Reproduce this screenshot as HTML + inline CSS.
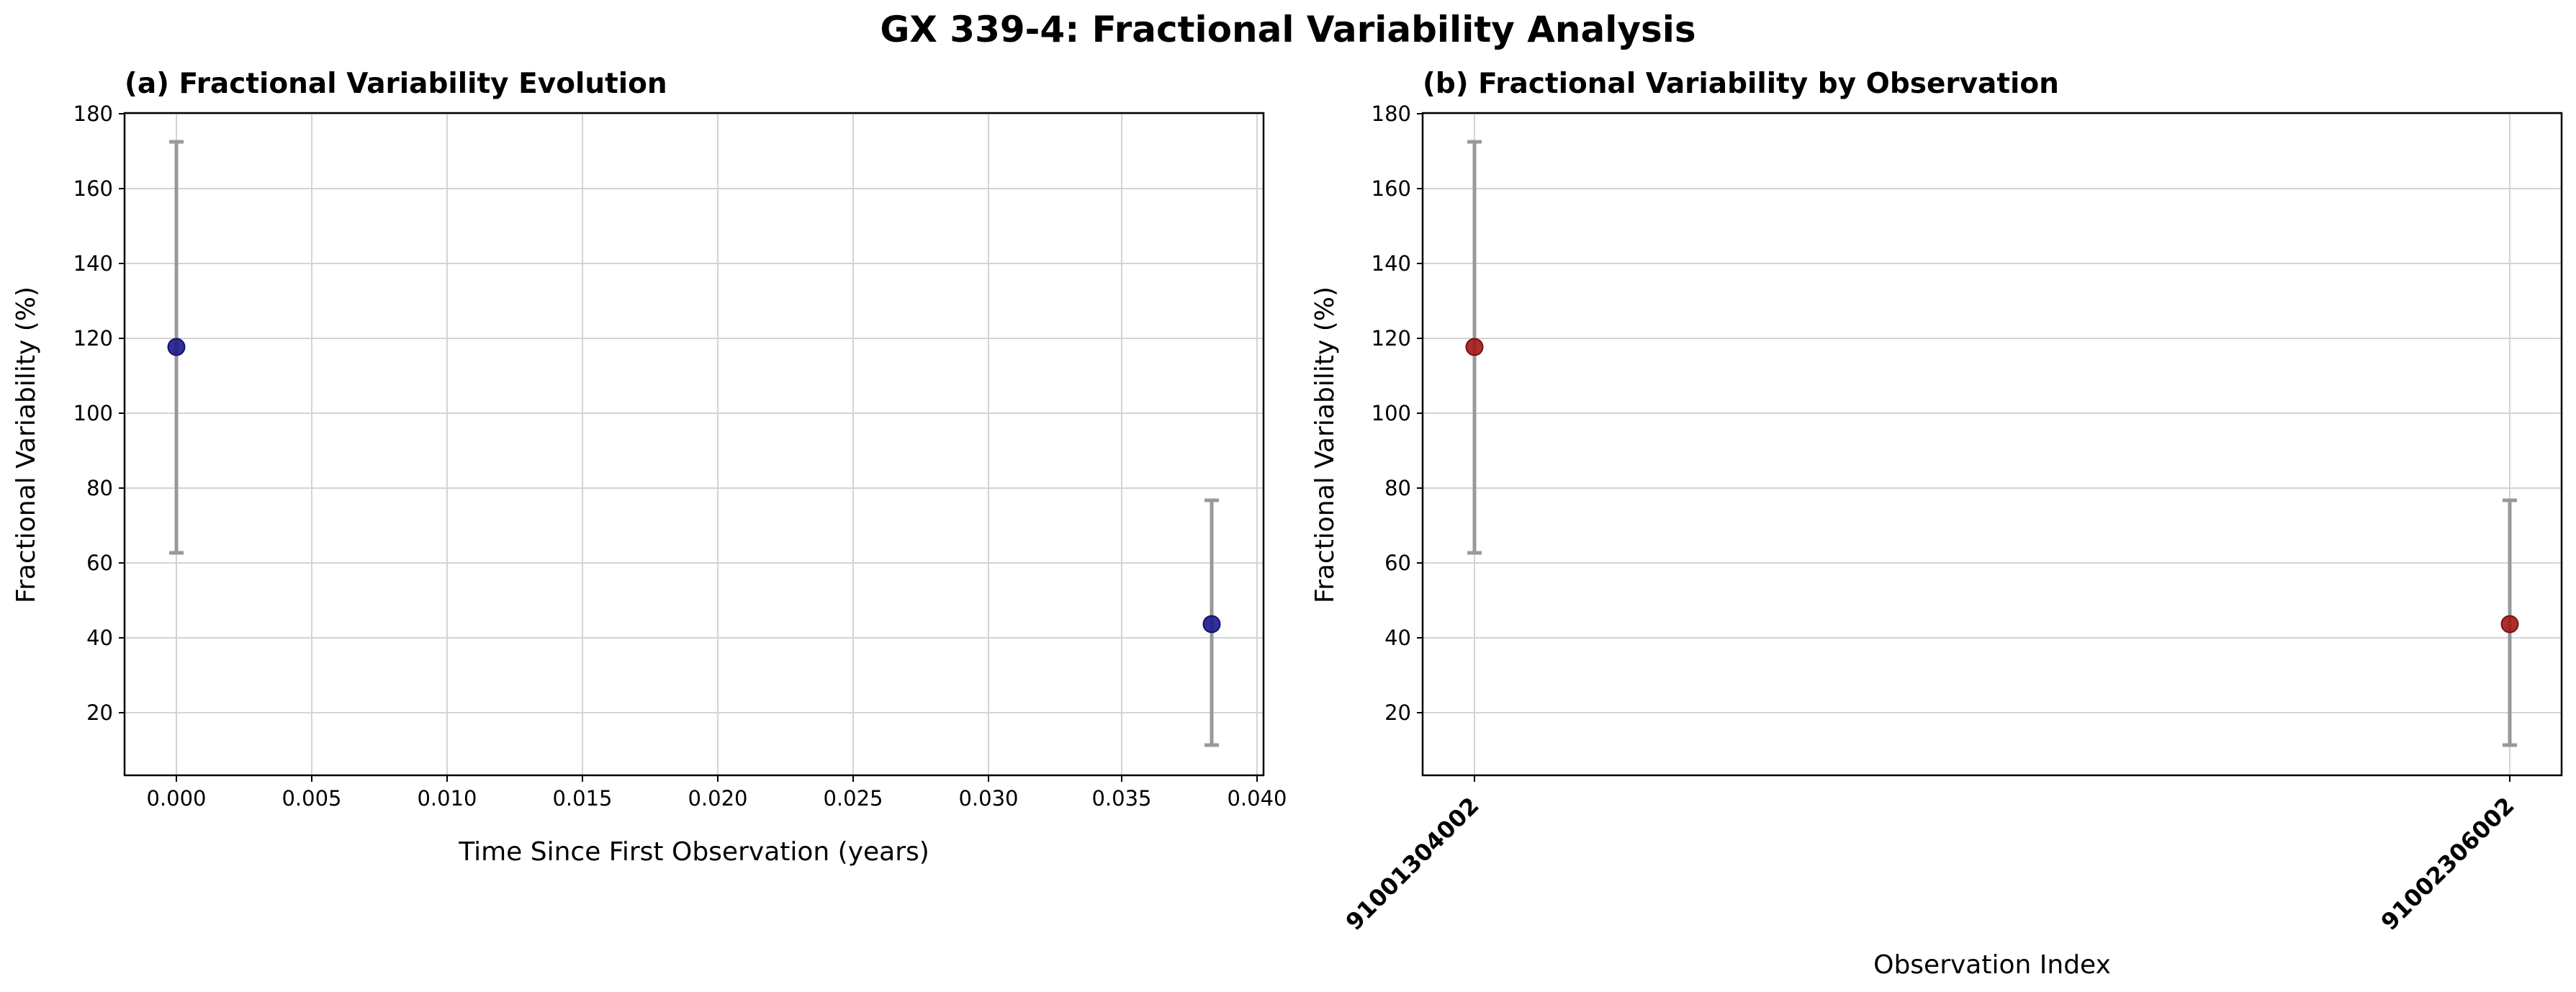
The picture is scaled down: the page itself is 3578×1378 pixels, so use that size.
<!DOCTYPE html>
<html><head><meta charset="utf-8"><style>body{margin:0;background:#fff}svg{display:block}</style></head>
<body>
<svg width="3578" height="1378" xmlns="http://www.w3.org/2000/svg" font-family="'DejaVu Sans','Liberation Sans',sans-serif">
<rect width="3578" height="1378" fill="#fff"/>
<text x="1789" y="58" font-size="50" font-weight="bold" text-anchor="middle">GX 339-4: Fractional Variability Analysis</text>

<!-- Left panel -->
<text x="173" y="129" font-size="39" font-weight="bold">(a) Fractional Variability Evolution</text>
<g stroke="#d4d4d4" stroke-width="2">
<line x1="173" x2="1755" y1="158" y2="158"/><line x1="173" x2="1755" y1="262" y2="262"/><line x1="173" x2="1755" y1="366" y2="366"/><line x1="173" x2="1755" y1="470" y2="470"/><line x1="173" x2="1755" y1="574" y2="574"/><line x1="173" x2="1755" y1="678" y2="678"/><line x1="173" x2="1755" y1="782" y2="782"/><line x1="173" x2="1755" y1="886" y2="886"/><line x1="173" x2="1755" y1="990" y2="990"/>
<line x1="245" x2="245" y1="157" y2="1077"/><line x1="433" x2="433" y1="157" y2="1077"/><line x1="621" x2="621" y1="157" y2="1077"/><line x1="809" x2="809" y1="157" y2="1077"/><line x1="997" x2="997" y1="157" y2="1077"/><line x1="1185" x2="1185" y1="157" y2="1077"/><line x1="1373" x2="1373" y1="157" y2="1077"/><line x1="1558" x2="1558" y1="157" y2="1077"/><line x1="1746" x2="1746" y1="157" y2="1077"/>
</g>
<g stroke="#999" stroke-width="5">
<line x1="245" x2="245" y1="197" y2="768"/><line x1="235" x2="255" y1="197" y2="197"/><line x1="235" x2="255" y1="768" y2="768"/>
<line x1="1683" x2="1683" y1="695" y2="1035"/><line x1="1673" x2="1693" y1="695" y2="695"/><line x1="1673" x2="1693" y1="1035" y2="1035"/>
</g>
<circle cx="245" cy="482" r="11.5" fill="#1a1a8c" fill-opacity="0.9" stroke="#14146e" stroke-width="2"/>
<circle cx="1683" cy="867" r="11.5" fill="#1a1a8c" fill-opacity="0.9" stroke="#14146e" stroke-width="2"/>
<rect x="173" y="157" width="1582" height="920" fill="none" stroke="#000" stroke-width="2.5"/>
<g stroke="#000" stroke-width="2">
<line x1="165" x2="173" y1="158" y2="158"/><line x1="165" x2="173" y1="262" y2="262"/><line x1="165" x2="173" y1="366" y2="366"/><line x1="165" x2="173" y1="470" y2="470"/><line x1="165" x2="173" y1="574" y2="574"/><line x1="165" x2="173" y1="678" y2="678"/><line x1="165" x2="173" y1="782" y2="782"/><line x1="165" x2="173" y1="886" y2="886"/><line x1="165" x2="173" y1="990" y2="990"/>
<line x1="245" x2="245" y1="1077" y2="1086"/><line x1="433" x2="433" y1="1077" y2="1086"/><line x1="621" x2="621" y1="1077" y2="1086"/><line x1="809" x2="809" y1="1077" y2="1086"/><line x1="997" x2="997" y1="1077" y2="1086"/><line x1="1185" x2="1185" y1="1077" y2="1086"/><line x1="1373" x2="1373" y1="1077" y2="1086"/><line x1="1558" x2="1558" y1="1077" y2="1086"/><line x1="1746" x2="1746" y1="1077" y2="1086"/>
</g>
<g font-size="29" text-anchor="end">
<text x="157" y="168">180</text><text x="157" y="272">160</text><text x="157" y="376">140</text><text x="157" y="480">120</text><text x="157" y="584">100</text><text x="157" y="688">80</text><text x="157" y="792">60</text><text x="157" y="896">40</text><text x="157" y="1000">20</text>
</g>
<g font-size="29" text-anchor="middle">
<text x="245" y="1119">0.000</text><text x="433" y="1119">0.005</text><text x="621" y="1119">0.010</text><text x="809" y="1119">0.015</text><text x="997" y="1119">0.020</text><text x="1185" y="1119">0.025</text><text x="1373" y="1119">0.030</text><text x="1558" y="1119">0.035</text><text x="1746" y="1119">0.040</text>
</g>
<text x="964" y="1195" font-size="36" text-anchor="middle">Time Since First Observation (years)</text>
<text transform="translate(48,618) rotate(-90)" font-size="36" text-anchor="middle">Fractional Variability (%)</text>

<!-- Right panel -->
<text x="1976" y="129" font-size="39" font-weight="bold">(b) Fractional Variability by Observation</text>
<g stroke="#d4d4d4" stroke-width="2">
<line x1="1976" x2="3558" y1="158" y2="158"/><line x1="1976" x2="3558" y1="262" y2="262"/><line x1="1976" x2="3558" y1="366" y2="366"/><line x1="1976" x2="3558" y1="470" y2="470"/><line x1="1976" x2="3558" y1="574" y2="574"/><line x1="1976" x2="3558" y1="678" y2="678"/><line x1="1976" x2="3558" y1="782" y2="782"/><line x1="1976" x2="3558" y1="886" y2="886"/><line x1="1976" x2="3558" y1="990" y2="990"/>
<line x1="2048" x2="2048" y1="157" y2="1077"/><line x1="3486" x2="3486" y1="157" y2="1077"/>
</g>
<g stroke="#999" stroke-width="5">
<line x1="2048" x2="2048" y1="197" y2="768"/><line x1="2038" x2="2058" y1="197" y2="197"/><line x1="2038" x2="2058" y1="768" y2="768"/>
<line x1="3486" x2="3486" y1="695" y2="1035"/><line x1="3476" x2="3496" y1="695" y2="695"/><line x1="3476" x2="3496" y1="1035" y2="1035"/>
</g>
<circle cx="2048" cy="482" r="11.5" fill="#a01818" fill-opacity="0.9" stroke="#7a1010" stroke-width="2"/>
<circle cx="3486" cy="867" r="11.5" fill="#a01818" fill-opacity="0.9" stroke="#7a1010" stroke-width="2"/>
<rect x="1976" y="157" width="1582" height="920" fill="none" stroke="#000" stroke-width="2.5"/>
<g stroke="#000" stroke-width="2">
<line x1="1968" x2="1976" y1="158" y2="158"/><line x1="1968" x2="1976" y1="262" y2="262"/><line x1="1968" x2="1976" y1="366" y2="366"/><line x1="1968" x2="1976" y1="470" y2="470"/><line x1="1968" x2="1976" y1="574" y2="574"/><line x1="1968" x2="1976" y1="678" y2="678"/><line x1="1968" x2="1976" y1="782" y2="782"/><line x1="1968" x2="1976" y1="886" y2="886"/><line x1="1968" x2="1976" y1="990" y2="990"/>
<line x1="2048" x2="2048" y1="1077" y2="1086"/><line x1="3486" x2="3486" y1="1077" y2="1086"/>
</g>
<g font-size="29" text-anchor="end">
<text x="1960" y="168">180</text><text x="1960" y="272">160</text><text x="1960" y="376">140</text><text x="1960" y="480">120</text><text x="1960" y="584">100</text><text x="1960" y="688">80</text><text x="1960" y="792">60</text><text x="1960" y="896">40</text><text x="1960" y="1000">20</text>
</g>
<g font-size="32" font-weight="bold" text-anchor="end">
<text transform="translate(2056,1121) rotate(-45)">91001304002</text>
<text transform="translate(3494,1121) rotate(-45)">91002306002</text>
</g>
<text x="2767" y="1352" font-size="36" text-anchor="middle">Observation Index</text>
<text transform="translate(1852,618) rotate(-90)" font-size="36" text-anchor="middle">Fractional Variability (%)</text>
</svg>
</body></html>
